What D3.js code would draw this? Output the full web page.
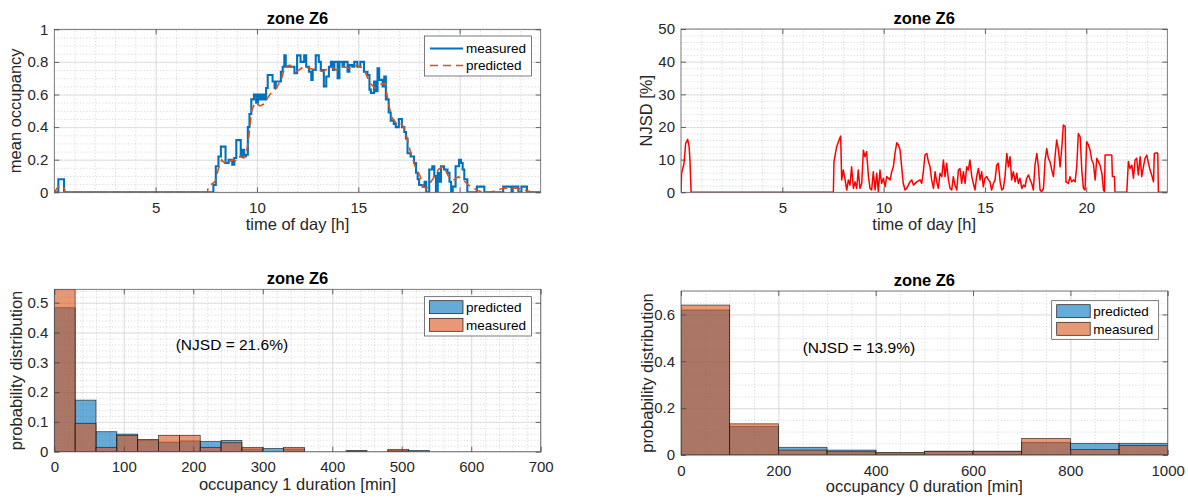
<!DOCTYPE html>
<html><head><meta charset="utf-8">
<script src="https://cdn.jsdelivr.net/npm/d3@7"></script>
<style>
body{margin:0;background:#fff;}
text{font-family:"Liberation Sans",Arial,Helvetica,sans-serif;}
</style></head><body><svg id="c" width="1188" height="498"></svg>
<script>
// ---------------- DATA ----------------
const hourTicks = [5, 10, 15, 20];
const occTicks = [0, 0.2, 0.4, 0.6, 0.8, 1];
const njsdTicks = [0, 10, 20, 30, 40, 50];
const dur1Ticks = [0, 100, 200, 300, 400, 500, 600, 700];
const prob1Ticks = [0, 0.1, 0.2, 0.3, 0.4, 0.5];
const dur0Ticks = [0, 200, 400, 600, 800, 1000];
const prob0Ticks = [0, 0.2, 0.4, 0.6];

// measured mean occupancy: [hour, value] (stairs)
const measuredOcc = [[0,0],[0.2,0.08],[0.48,0],[7.85,0.045],[7.97,0.16],[8.1,0.22],[8.22,0.28],[8.45,0.18],[8.6,0.2],[8.78,0.17],[8.88,0.21],[8.98,0.32],[9.2,0.22],[9.3,0.26],[9.37,0.22],[9.45,0.23],[9.55,0.4],[9.63,0.48],[9.72,0.57],[9.85,0.6],[9.96,0.55],[10.05,0.6],[10.15,0.57],[10.25,0.6],[10.35,0.57],[10.45,0.64],[10.53,0.72],[10.77,0.68],[10.87,0.64],[10.93,0.68],[11.18,0.74],[11.27,0.77],[11.35,0.84],[11.42,0.77],[11.85,0.73],[11.98,0.84],[12.15,0.8],[12.33,0.84],[12.43,0.77],[12.57,0.74],[12.68,0.69],[12.75,0.75],[12.9,0.84],[13.05,0.8],[13.15,0.75],[13.3,0.65],[13.42,0.71],[13.55,0.77],[13.65,0.8],[13.75,0.75],[13.82,0.8],[13.98,0.7],[14.07,0.8],[14.22,0.77],[14.3,0.8],[14.47,0.74],[14.56,0.78],[14.7,0.77],[14.8,0.8],[14.95,0.77],[15.1,0.8],[15.28,0.74],[15.45,0.72],[15.55,0.63],[15.62,0.61],[15.78,0.68],[15.87,0.62],[15.95,0.76],[16.03,0.69],[16.2,0.65],[16.28,0.71],[16.36,0.57],[16.5,0.49],[16.6,0.44],[16.75,0.42],[16.85,0.4],[17.0,0.45],[17.15,0.4],[17.27,0.37],[17.35,0.33],[17.43,0.24],[17.58,0.22],[17.75,0.18],[17.85,0.12],[17.93,0.08],[18.0,0.045],[18.17,0.035],[18.27,0.065],[18.35,0],[18.5,0.14],[18.65,0.16],[18.75,0.1],[18.83,0],[18.92,0.12],[19.0,0.065],[19.08,0.16],[19.23,0.14],[19.4,0.12],[19.5,0.065],[19.58,0],[19.66,0.035],[19.8,0.16],[19.97,0.2],[20.07,0.18],[20.15,0.14],[20.23,0.08],[20.38,0],[20.85,0.035],[21.22,0],[22.15,0.035],[22.56,0],[22.62,0.035],[22.9,0],[23.05,0.035],[23.32,0],[24,0]];

// predicted mean occupancy: [hour, value]
const predictedOcc = [[0,0],[0.2,0.035],[0.45,0.035],[0.55,0],[7.55,0],[7.6,0.035],[7.93,0.065],[8.09,0.14],[8.26,0.2],[8.4,0.18],[8.51,0.2],[8.65,0.19],[8.83,0.2],[9.0,0.19],[9.16,0.22],[9.35,0.21],[9.49,0.25],[9.58,0.32],[9.74,0.5],[9.9,0.55],[10.15,0.53],[10.32,0.54],[10.48,0.57],[10.64,0.6],[10.97,0.64],[11.22,0.7],[11.38,0.77],[11.63,0.78],[11.96,0.74],[12.29,0.77],[12.62,0.76],[12.95,0.75],[13.28,0.74],[13.6,0.77],[13.93,0.75],[14.26,0.77],[14.59,0.76],[14.92,0.78],[15.25,0.76],[15.58,0.67],[15.82,0.64],[16.07,0.66],[16.32,0.67],[16.48,0.55],[16.65,0.46],[16.89,0.42],[17.14,0.42],[17.31,0.38],[17.55,0.26],[17.8,0.16],[18.05,0.1],[18.21,0.035],[18.37,0.025],[18.7,0.085],[18.95,0.14],[19.2,0.16],[19.44,0.1],[19.69,0.075],[19.94,0.095],[20.18,0.075],[20.43,0.045],[20.68,0.025],[21.01,0.005],[21.5,0],[22.16,0.025],[22.82,0.025],[23.15,0.015],[23.47,0.005],[24,0]];

// NJSD [%]: [hour, value]
const njsdSeries = [[0,0],[0.03,5.8],[0.15,8.9],[0.23,15],[0.33,16.2],[0.4,14],[0.44,10],[0.5,0],[7.52,0],[7.55,9.4],[7.68,13.9],[7.8,16],[7.88,17.2],[7.93,3.8],[8.01,6.8],[8.1,3.8],[8.18,0.7],[8.26,3.8],[8.34,2.2],[8.42,7.8],[8.51,1.2],[8.59,3.2],[8.67,1.2],[8.75,6.8],[8.83,1.2],[8.92,2.7],[9.0,12.9],[9.08,10.9],[9.16,12.4],[9.25,4.8],[9.33,1.2],[9.41,0.7],[9.49,6.3],[9.58,0.7],[9.66,5.8],[9.74,0.2],[9.82,6.8],[9.9,2.7],[9.99,4.3],[10.07,1.7],[10.15,4.8],[10.32,3.8],[10.4,6.3],[10.48,7.8],[10.56,11.9],[10.65,15.2],[10.73,14.5],[10.81,13.0],[10.89,7.8],[10.97,2.7],[11.06,0.7],[11.14,1.2],[11.22,2.2],[11.3,3.2],[11.39,3.8],[11.47,2.2],[11.63,3.2],[11.8,3.8],[11.88,2.7],[11.96,6.3],[12.04,11.4],[12.13,11.9],[12.21,9.4],[12.29,7.8],[12.37,3.8],[12.46,1.2],[12.54,6.3],[12.62,3.2],[12.7,1.2],[12.78,5.8],[12.87,4.8],[12.95,9.9],[13.03,4.8],[13.11,8.9],[13.2,3.8],[13.28,1.2],[13.36,0.7],[13.44,4.8],[13.52,2.2],[13.61,0.7],[13.69,6.8],[13.77,7.3],[13.85,2.7],[13.94,6.3],[14.02,2.7],[14.1,7.8],[14.18,6.8],[14.26,9.9],[14.35,4.8],[14.43,2.7],[14.51,0.7],[14.59,4.8],[14.68,7.3],[14.76,3.8],[14.84,6.3],[14.92,1.7],[15.0,4.3],[15.09,4.8],[15.17,3.8],[15.25,3.2],[15.33,0.7],[15.42,2.7],[15.5,3.8],[15.58,8.3],[15.66,8.9],[15.75,3.2],[15.83,0.7],[15.91,1.2],[15.99,4.8],[16.08,11.9],[16.16,7.8],[16.24,10.9],[16.32,3.8],[16.4,6.3],[16.49,3.2],[16.57,5.8],[16.65,2.7],[16.73,4.3],[16.82,1.2],[16.9,2.2],[16.98,1.7],[17.06,4.3],[17.15,5.3],[17.23,3.8],[17.31,2.7],[17.39,0.7],[17.47,8.3],[17.56,11.9],[17.64,7.8],[17.72,0.7],[17.8,0.2],[17.89,1.2],[17.97,9.9],[18.05,13.4],[18.13,10.4],[18.21,9.4],[18.3,6.8],[18.38,4.8],[18.46,10.9],[18.54,16.0],[18.63,12.9],[18.71,7.8],[18.79,13.4],[18.87,20.6],[18.96,20.1],[19.0,3.2],[19.12,2.7],[19.2,4.8],[19.28,3.2],[19.37,3.8],[19.45,3.2],[19.53,7.8],[19.61,18.0],[19.7,17.0],[19.78,6.8],[19.86,1.2],[19.94,0.7],[20.02,15.5],[20.11,14.5],[20.19,12.9],[20.27,9.9],[20.35,8.9],[20.44,3.8],[20.52,10.4],[20.6,9.4],[20.68,8.3],[20.77,5.8],[20.85,0.7],[20.9,0.2],[20.93,11.4],[21.26,11.4],[21.29,4.8],[21.39,4.8],[21.42,0],[22.0,0],[22.08,9.4],[22.16,7.3],[22.25,8.3],[22.33,4.3],[22.41,9.9],[22.49,10.4],[22.57,5.3],[22.66,10.9],[22.74,4.8],[22.82,7.8],[22.9,10.4],[22.99,11.4],[23.07,8.9],[23.15,6.8],[23.23,5.3],[23.32,3.2],[23.36,11.9],[23.48,12.1],[23.53,11.9],[23.56,0],[24,0]];

// occupancy 1 duration histogram (bin width 30 min)
const occ1BinStarts = [0,30,60,90,120,150,180,210,240,270,300,330,360,390,420,450,480,510];
const occ1BinWidth = 30;
const occ1Predicted = [0.483,0.173,0.067,0.059,0.039,0.032,0.036,0.034,0.038,0.009,0.011,0.009,0,0,0.003,0,0.004,0.0045];
const occ1Measured  = [0.545,0.095,0.0145,0.055,0.041,0.055,0.055,0.0145,0.030,0.0145,0,0.0145,0,0,0.003,0,0.008,0];
const occ1NJSD = "(NJSD = 21.6%)";

// occupancy 0 duration histogram (bin width 100 min)
const occ0BinStarts = [0,100,200,300,400,500,600,700,800,900];
const occ0BinWidth = 100;
const occ0Predicted = [0.619,0.121,0.033,0.021,0.009,0.016,0.016,0.054,0.05,0.05];
const occ0Measured  = [0.64,0.133,0.021,0.014,0.01,0.016,0.016,0.071,0.023,0.04];
const occ0NJSD = "(NJSD = 13.9%)";

// ---------------- DRAWING ----------------
const svg = d3.select("#c");
svg.append("rect").attr("width",1188).attr("height",498).attr("fill","#fff");
const FONT = '"Liberation Sans",Arial,Helvetica,sans-serif';
const AX = "#262626";
const BLUE = "#0072BD", ORANGE = "#D95319";
let clipId = 0;

function rng(a, b, s){ return d3.range(Math.round((b-a)/s)+1).map(i => +(a + i*s).toFixed(4)); }

function panel(box, xDom, yDom, xTicks, yTicks, xMinor, yMinor) {
  const w = box.r - box.l, h = box.b - box.t;
  const g = svg.append("g").attr("transform", `translate(${box.l},${box.t})`);
  const x = d3.scaleLinear().domain(xDom).range([0, w]);
  const y = d3.scaleLinear().domain(yDom).range([h, 0]);
  // minor grid
  const mg = g.append("g");
  mg.append("g").attr("transform", `translate(0,${h})`)
    .call(d3.axisBottom(x).tickValues(xMinor).tickSize(-h).tickFormat(""));
  mg.append("g").call(d3.axisLeft(y).tickValues(yMinor).tickSize(-w).tickFormat(""));
  mg.selectAll(".domain").remove();
  mg.selectAll("line").attr("stroke", "#c8c8c8").attr("stroke-width", 0.8).attr("stroke-dasharray", "1,2.2");
  // major grid
  const Mg = g.append("g");
  Mg.append("g").attr("transform", `translate(0,${h})`)
    .call(d3.axisBottom(x).tickValues(xTicks).tickSize(-h).tickFormat(""));
  Mg.append("g").call(d3.axisLeft(y).tickValues(yTicks).tickSize(-w).tickFormat(""));
  Mg.selectAll(".domain").remove();
  Mg.selectAll("line").attr("stroke", "#dcdcdc").attr("stroke-width", 0.9);
  const id = "clip" + (clipId++);
  g.append("clipPath").attr("id", id).append("rect").attr("width", w).attr("height", h);
  const data = g.append("g").attr("clip-path", `url(#${id})`);
  return {g, x, y, w, h, data};
}

function finishAxes(p, xTicks, yTicks, xFmt, yFmt) {
  const {g, x, y, w, h} = p;
  g.append("rect").attr("width", w).attr("height", h).attr("fill", "none")
    .attr("stroke", "#5a5a5a").attr("stroke-width", 0.8);
  const style = sel => {
    sel.attr("font-family", FONT).attr("font-size", 15).style("color", AX);
    sel.select(".domain").remove();
    sel.selectAll("line").attr("stroke", "#444").attr("stroke-width", 0.8);
  };
  g.append("g").attr("transform", `translate(0,${h})`)
    .call(d3.axisBottom(x).tickValues(xTicks).tickSizeInner(-5).tickSizeOuter(0).tickPadding(10).tickFormat(xFmt)).call(style);
  g.append("g")
    .call(d3.axisTop(x).tickValues(xTicks).tickSizeInner(-5).tickSizeOuter(0).tickFormat("")).call(style);
  g.append("g")
    .call(d3.axisLeft(y).tickValues(yTicks).tickSizeInner(-5).tickSizeOuter(0).tickPadding(6).tickFormat(yFmt)).call(style);
  g.append("g").attr("transform", `translate(${w},0)`)
    .call(d3.axisRight(y).tickValues(yTicks).tickSizeInner(-5).tickSizeOuter(0).tickFormat("")).call(style);
}

function label(x, y, txt, opt = {}) {
  const t = svg.append("text").attr("x", x).attr("y", y).text(txt)
    .attr("font-family", FONT).attr("font-size", opt.size || 16.5)
    .attr("fill", opt.fill || AX).attr("text-anchor", opt.anchor || "middle");
  if (opt.bold) t.attr("font-weight", "bold");
  if (opt.rot) t.attr("transform", `rotate(-90,${x},${y})`);
  return t;
}

const fmtG = d => d3.format("~g")(d);

// ---------- Top-left: mean occupancy ----------
{
  const box = {l:54.3, t:29.3, r:540.7, b:192.3};
  const p = panel(box, [0,24], [0,1], hourTicks, occTicks, rng(1,23,1), rng(0,1,0.05));
  const line = d3.line().x(d => p.x(d[0])).y(d => p.y(d[1]));
  const stair = d3.line().x(d => p.x(d[0])).y(d => p.y(d[1])).curve(d3.curveStepAfter);
  p.data.append("path").datum(measuredOcc).attr("d", stair)
    .attr("fill","none").attr("stroke", BLUE).attr("stroke-width", 2.1).attr("stroke-linejoin","miter");
  p.data.append("path").datum(predictedOcc).attr("d", line)
    .attr("fill","none").attr("stroke", ORANGE).attr("stroke-width", 1.6).attr("stroke-dasharray", "8,5");
  finishAxes(p, hourTicks, occTicks, fmtG, fmtG);
  label((box.l+box.r)/2, box.t-5.5, "zone Z6", {bold:true, fill:"#000"});
  label((box.l+box.r)/2, 230, "time of day [h]");
  label(21, (box.t+box.b)/2, "mean occupancy", {rot:true});
  // legend
  const lg = svg.append("g");
  lg.append("rect").attr("x",424.5).attr("y",36).attr("width",107).attr("height",40)
    .attr("fill","#fff").attr("stroke","#444").attr("stroke-width",0.7);
  lg.append("line").attr("x1",430).attr("x2",463).attr("y1",48.5).attr("y2",48.5)
    .attr("stroke",BLUE).attr("stroke-width",2.1);
  lg.append("line").attr("x1",430).attr("x2",463).attr("y1",65.5).attr("y2",65.5)
    .attr("stroke",ORANGE).attr("stroke-width",1.6).attr("stroke-dasharray","8,5");
  label(466, 53.3, "measured", {size:13.5, anchor:"start", fill:"#000"});
  label(466, 70.3, "predicted", {size:13.5, anchor:"start", fill:"#000"});
}

// ---------- Top-right: NJSD ----------
{
  const box = {l:681, t:29, r:1167.3, b:192.3};
  const p = panel(box, [0,24], [0,50], hourTicks, njsdTicks, rng(1,23,1), rng(0,50,2));
  const line = d3.line().x(d => p.x(d[0])).y(d => p.y(d[1]));
  p.data.append("path").datum(njsdSeries).attr("d", line)
    .attr("fill","none").attr("stroke", "#ff0000").attr("stroke-width", 1.5).attr("stroke-linejoin","round");
  finishAxes(p, hourTicks, njsdTicks, fmtG, fmtG);
  label((box.l+box.r)/2, box.t-5.5, "zone Z6", {bold:true, fill:"#000"});
  label((box.l+box.r)/2, 230, "time of day [h]");
  label(652, (box.t+box.b)/2, "NJSD [%]", {rot:true});
}

function histPanel(box, xDom, yDom, xTicks, yTicks, xMinor, yMinor, starts, bw, pred, meas, legendBox) {
  const p = panel(box, xDom, yDom, xTicks, yTicks, xMinor, yMinor);
  const drawBars = (vals, color) => {
    p.data.append("g").selectAll("rect").data(starts.map((s,i)=>({s, v: vals[i]})).filter(d => d.v > 0))
      .join("rect")
      .attr("x", d => p.x(d.s)).attr("width", d => p.x(d.s + bw) - p.x(d.s))
      .attr("y", d => p.y(d.v)).attr("height", d => p.y(0) - p.y(d.v))
      .attr("fill", color).attr("fill-opacity", 0.6)
      .attr("stroke", "#1a1a1a").attr("stroke-width", 0.7).attr("stroke-opacity", 0.85);
  };
  drawBars(pred, BLUE);
  drawBars(meas, ORANGE);
  finishAxes(p, xTicks, yTicks, fmtG, fmtG);
  label((box.l+box.r)/2, box.t-5.5, "zone Z6", {bold:true, fill:"#000"});
  // legend
  const L = legendBox;
  svg.append("rect").attr("x",L.x).attr("y",L.y).attr("width",L.w).attr("height",L.h)
    .attr("fill","#fff").attr("stroke","#444").attr("stroke-width",0.7);
  [[BLUE,"predicted",0],[ORANGE,"measured",1]].forEach(([c,t,i]) => {
    svg.append("rect").attr("x",L.x+5).attr("y",L.y+4+i*17.6).attr("width",33.5).attr("height",13)
      .attr("fill",c).attr("fill-opacity",0.6).attr("stroke","#1a1a1a").attr("stroke-width",0.7);
    label(L.x+41.5, L.y+15.5+i*17.6, t, {size:13.5, anchor:"start", fill:"#000"});
  });
  return p;
}

// ---------- Bottom-left ----------
{
  const box = {l:54.3, t:289.3, r:540.7, b:451.7};
  histPanel(box, [0,700], [0,0.545], dur1Ticks, prob1Ticks, rng(0,700,20), rng(0,0.54,0.02),
    occ1BinStarts, occ1BinWidth, occ1Predicted, occ1Measured,
    {x:424.5, y:296.7, w:107, h:39.3});
  label(175.7, 349.5, occ1NJSD, {size:15.5, anchor:"start", fill:"#000"});
  label((box.l+box.r)/2, 489.5, "occupancy 1 duration [min]");
  label(21.5, (box.t+box.b)/2, "probability distribution", {rot:true});
}

// ---------- Bottom-right ----------
{
  const box = {l:681, t:291, r:1167.7, b:455};
  histPanel(box, [0,1000], [0,0.7], dur0Ticks, prob0Ticks, rng(0,1000,50), rng(0,0.7,0.05),
    occ0BinStarts, occ0BinWidth, occ0Predicted, occ0Measured,
    {x:1051.7, y:300.7, w:107, h:38.6});
  label(802.7, 352.5, occ0NJSD, {size:15.5, anchor:"start", fill:"#000"});
  label((box.l+box.r)/2, 492, "occupancy 0 duration [min]");
  label(653, (box.t+box.b)/2, "probability distribution", {rot:true});
}
</script></body></html>
